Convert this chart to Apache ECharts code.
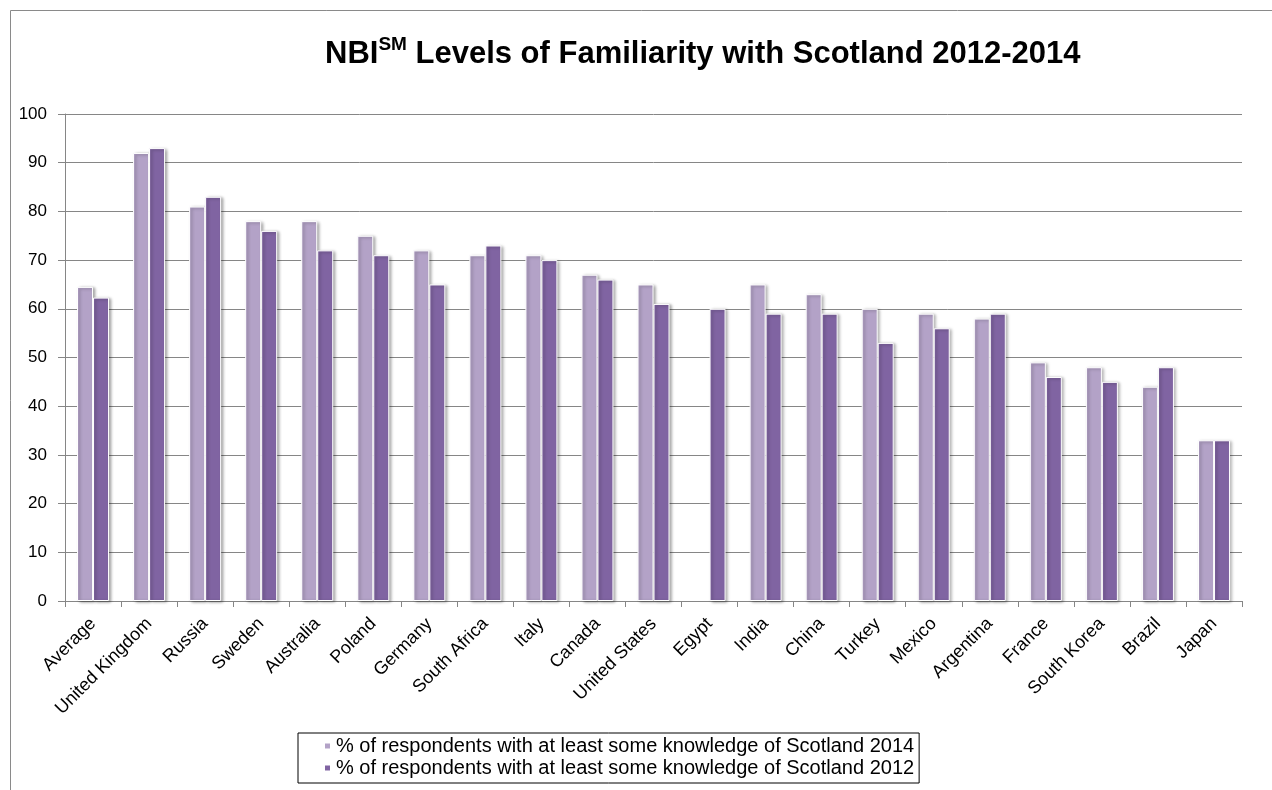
<!DOCTYPE html>
<html>
<head>
<meta charset="utf-8">
<script src="https://cdn.jsdelivr.net/npm/echarts@6/dist/echarts.min.js"></script>
<style>
html,body{margin:0;padding:0;background:#fff;}
#chart{width:1272px;height:790px;}
</style>
</head>
<body>
<div id="chart"></div>
<script>
const categories = ["Average","United Kingdom","Russia","Sweden","Australia","Poland","Germany","South Africa","Italy","Canada","United States","Egypt","India","China","Turkey","Mexico","Argentina","France","South Korea","Brazil","Japan"];
const values2014 = [64.5,92,81,78,78,75,72,71,71,67,65,null,65,63,60,59,58,49,48,44,33];
const values2012 = [62.3,93,83,76,72,71,65,73,70,66,61,60,59,59,53,56,59,46,45,48,33];
const seriesNames = ["% of respondents with at least some knowledge of Scotland 2014","% of respondents with at least some knowledge of Scotland 2012"];
const yTicks = {min:0, max:100, interval:10};

const FONT = 'Arial, "Liberation Sans", sans-serif';
const chart = echarts.init(document.getElementById('chart'));
const barStyle = (c) => ({
  color: c,
  borderColor: '#ffffff',
  borderWidth: 1,
  shadowBlur: 3,
  shadowColor: 'rgba(0,0,0,0.35)',
  shadowOffsetX: 2,
  shadowOffsetY: 1
});
chart.setOption({
  animation: false,
  backgroundColor: '#ffffff',
  graphic: [{
    type: 'rect',
    shape: {x: 10.5, y: 10.5, width: 1400, height: 900},
    style: {fill: 'none', stroke: '#8a8a8a', lineWidth: 1},
    silent: true
  }],
  title: {
    left: 320,
    top: 30,
    text: '{a|NBI}{b|SM}{a| Levels of Familiarity with Scotland 2012-2014}',
    textStyle: {
      rich: {
        a: {fontFamily: FONT, fontSize: 31, fontWeight: 'bold', color: '#000', lineHeight: 38},
        b: {fontFamily: FONT, fontSize: 19, fontWeight: 'bold', color: '#000', verticalAlign: 'top', lineHeight: 38, padding: [0,0,14,0]}
      }
    }
  },
  legend: {
    orient: 'vertical',
    left: 298,
    top: 733,
    padding: [3, 5, 5, 25],
    borderColor: '#000',
    borderWidth: 1,
    itemWidth: 7,
    itemHeight: 7,
    itemGap: 2,
    icon: 'rect',
    data: seriesNames,
    textStyle: {fontFamily: FONT, fontSize: 20, lineHeight: 20, color: '#000', padding: [0,0,0,0]}
  },
  grid: {left: 65, right: 30, top: 114, bottom: 189, containLabel: false},
  xAxis: {
    type: 'category',
    data: categories,
    axisLine: {show: true, lineStyle: {color: '#868686', width: 1}},
    axisTick: {show: true, length: 6, lineStyle: {color: '#868686'}},
    axisLabel: {interval: 0, rotate: 45, fontFamily: FONT, fontSize: 18, color: '#000', margin: 20}
  },
  yAxis: {
    type: 'value',
    min: yTicks.min,
    max: yTicks.max,
    interval: yTicks.interval,
    axisLine: {show: true, lineStyle: {color: '#868686', width: 1}},
    axisTick: {show: true, length: 7, lineStyle: {color: '#868686'}},
    axisLabel: {fontFamily: FONT, fontSize: 17, color: '#000', margin: 18},
    splitLine: {show: true, lineStyle: {color: '#868686', width: 1}}
  },
  series: [
    {name: seriesNames[0], type: 'bar', data: values2014, barWidth: 16, barGap: '0%', itemStyle: barStyle('#B3A2C7')},
    {name: seriesNames[1], type: 'bar', data: values2012, barWidth: 16, barGap: '0%', itemStyle: barStyle('#8064A2')}
  ]
});
</script>
</body>
</html>
